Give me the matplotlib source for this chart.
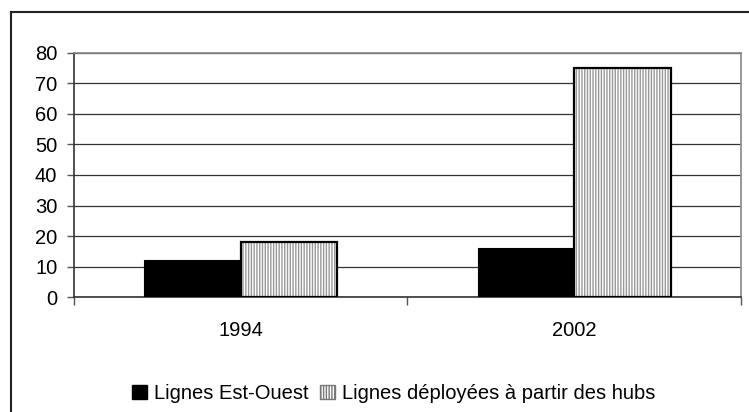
import numpy as np
import matplotlib.pyplot as plt
from matplotlib.patches import Patch

plt.rcParams['font.family'] = ['Liberation Sans', 'DejaVu Sans']
plt.rcParams['hatch.linewidth'] = 1.0

annees = ["1994", "2002"]
est_ouest = [12, 16]
hubs = [18, 75]
noms = ["Lignes Est-Ouest", "Lignes déployées à partir des hubs"]

fig = plt.figure(figsize=(7.49, 4.12), dpi=100)
ax = fig.add_axes([0.0988, 0.2791, 0.8905, 0.5923])

x = np.arange(len(annees))
w = 0.29
fs = 14.5

# barres noires
ax.bar(x - w / 2, est_ouest, w, color="black", edgecolor="black", linewidth=0.8, zorder=3)
# barres hachurees : fond + hachures grises, puis contour noir
ax.bar(x + w / 2, hubs, w, color="white", edgecolor="#999999", hatch="||||||", linewidth=0, zorder=3)
ax.bar(x + w / 2, hubs, w, fill=False, edgecolor="black", linewidth=1.6, zorder=4)

ax.set_xlim(-0.5, 1.5)
ax.set_ylim(0, 80)
ax.set_yticks(range(0, 81, 10))
ax.yaxis.grid(True, color="#333333", linewidth=0.9, zorder=0)
ax.set_axisbelow(True)

ax.set_xticks(x)
ax.set_xticklabels(annees)
ax.set_xticks([-0.5, 0.5, 1.5], minor=True)
ax.tick_params(axis="x", which="major", length=0, pad=17, labelsize=fs)
ax.tick_params(axis="x", which="minor", length=6, width=1, color="#555555", direction="out")
ax.tick_params(axis="y", length=5, width=1, color="#555555", labelsize=fs, pad=7)

for s in ["left", "bottom"]:
    ax.spines[s].set_color("#333333")
    ax.spines[s].set_linewidth(1.2)
for s in ["top", "right"]:
    ax.spines[s].set_color("#888888")
    ax.spines[s].set_linewidth(1.2)

poignees = [Patch(facecolor="black", edgecolor="black"),
            Patch(facecolor="white", edgecolor="#777777", hatch="||||||")]
fig.legend(poignees, noms, loc="center", bbox_to_anchor=(0.526, 0.045), ncol=2,
           frameon=False, fontsize=fs, handlelength=0.75, handleheight=0.75,
           handletextpad=0.35, columnspacing=0.55, borderaxespad=0)

# cadre exterieur (gauche et haut)
fig.add_artist(plt.Line2D([11 / 749, 11 / 749], [0, 1 - 12 / 412], color="#222222", linewidth=1.5))
fig.add_artist(plt.Line2D([11 / 749, 1], [1 - 12 / 412, 1 - 12 / 412], color="#222222", linewidth=1.5))

fig.savefig("out.png", dpi=100)
